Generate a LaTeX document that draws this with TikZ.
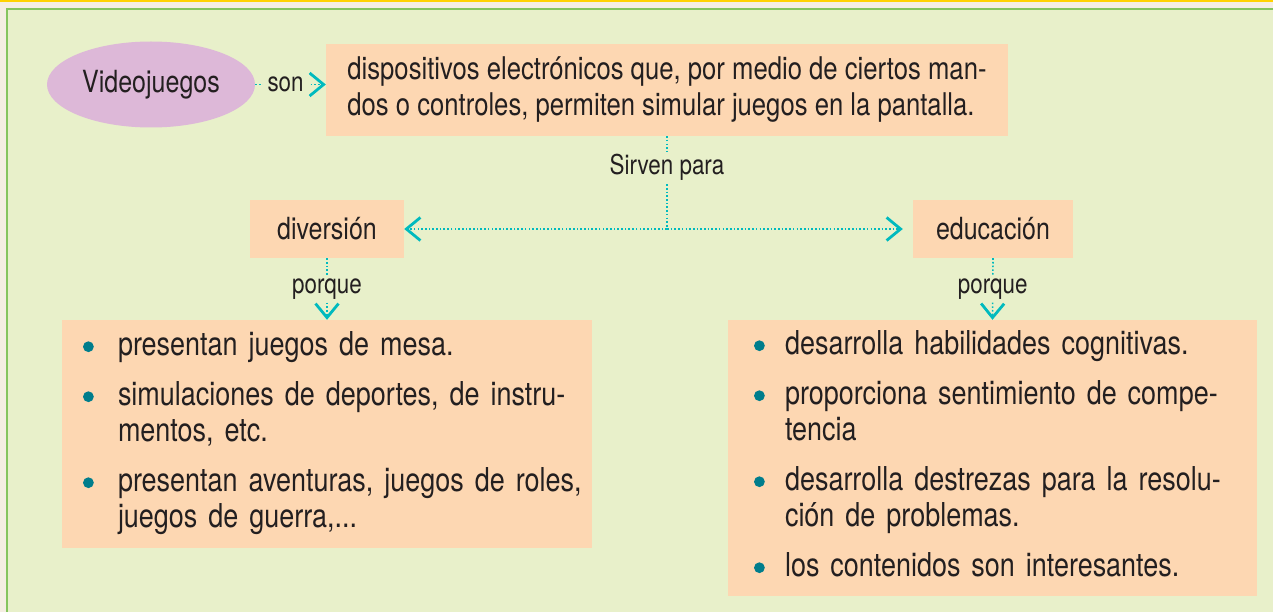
\documentclass[tikz,border=0pt]{standalone}
\usepackage{fontspec}
\setmainfont{TeX Gyre Heros}[FakeStretch=0.82]
\usepackage{xcolor}
\usepackage{tikz}
\usetikzlibrary{arrows.meta, positioning, calc, shapes.geometric}
\definecolor{vjcream}{RGB}{245,238,226}
\definecolor{vjyellow}{RGB}{255,210,0}
\definecolor{vjpanel}{RGB}{232,240,202}
\definecolor{vjgreen}{RGB}{134,196,94}
\definecolor{vjpeach}{RGB}{253,215,178}
\definecolor{vjlilac}{RGB}{221,184,216}
\definecolor{vjteal}{RGB}{0,186,190}
\definecolor{vjdot}{RGB}{0,125,140}
\definecolor{vjtext}{RGB}{35,31,32}
\newcommand{\vjitem}{\tikz[baseline=-8.5pt]\fill[vjdot] (0,0) circle (5.4pt);}

\begin{document}
\begin{tikzpicture}[x=1pt, y=-1pt, font=\fontsize{30.5}{36}\selectfont, text=vjtext,
  box/.style={fill=vjpeach, inner sep=0pt},
  list/.style={box, font=\fontsize{32.9}{36}\selectfont, align=left},
  link/.style={vjteal, line width=1.6pt, dash pattern=on 1.6pt off 2.1pt},
  vjarrow/.style={-{Straight Barb[length=14pt, width=23pt, line width=2.8pt]}},
  lbl/.style={fill=vjpanel, text=vjtext, inner xsep=5pt, inner ysep=3pt, font=\fontsize{27.3}{30}\selectfont}]
  \useasboundingbox (0,0) rectangle (1273,612);
  % ---- page frame: cream strip, yellow rule, green panel ----
  \fill[vjcream] (0,0) rectangle (1273,612);
  \fill[vjyellow] (0,0) rectangle (1273,1.6);
  \fill[vjpanel] (7,9) rectangle (1273,612);
  \draw[vjgreen, line width=1.8pt] (7,612) -- (7,9) -- (1273,9);
  % ---- concept nodes ----
  \node[ellipse, fill=vjlilac, minimum width=208pt, minimum height=86pt, inner sep=0pt] (video) at (151,84.5) {Videojuegos};
  \node[box, minimum width=682pt, minimum height=92pt, align=left, font=\fontsize{31.3}{36}\selectfont] (disp) at (667,90)
    {dispositivos electrónicos que, por medio de ciertos man-\\dos o controles, permiten simular juegos en la pantalla.};
  \node[box, minimum width=154pt, minimum height=58pt] (div) at (327,229) {diversión};
  \node[box, minimum width=160pt, minimum height=58pt] (edu) at (993,229) {educación};
  \node[list, minimum width=530pt, minimum height=228pt, text width=488pt] (divlist) at (327,434)
    {\raisebox{-3pt}{\begin{tabular}{@{}p{35pt}@{}l@{}}
      \vjitem & presentan juegos de mesa.\\[14pt]
      \vjitem & simulaciones de deportes, de instru-\\
              & mentos, etc.\\[14pt]
      \vjitem & presentan aventuras, juegos de roles,\\
              & juegos de guerra,...
     \end{tabular}}};
  \node[list, minimum width=529pt, minimum height=276pt, text width=477pt] (edulist) at (992.5,458)
    {\raisebox{-3pt}{\begin{tabular}{@{}p{31pt}@{}l@{}}
      \vjitem & desarrolla habilidades cognitivas.\\[14pt]
      \vjitem & proporciona sentimiento de compe-\\
              & tencia\\[14pt]
      \vjitem & desarrolla destrezas para la resolu-\\
              & ción de problemas.\\[14pt]
      \vjitem & los contenidos son interesantes.
     \end{tabular}}};
  % ---- dotted links ----
  \coordinate (jn) at (disp.south |- div.east);
  \draw[link, vjarrow] (video.east) -- (video.east -| disp.west) node[pos=0.43, lbl]{son};
  \draw[link] (disp.south) -- (jn) node[pos=0.34, lbl]{Sirven para};
  \draw[link, vjarrow] (jn) -- (div.east);
  \draw[link, vjarrow, shorten >=10pt] (jn) -- (edu.west);
  \draw[link, vjarrow] (div.south) -- (divlist.north) node[midway, lbl]{porque};
  \draw[link, vjarrow] (edu.south) -- (edulist.north) node[midway, lbl]{porque};
\end{tikzpicture}
\end{document}
